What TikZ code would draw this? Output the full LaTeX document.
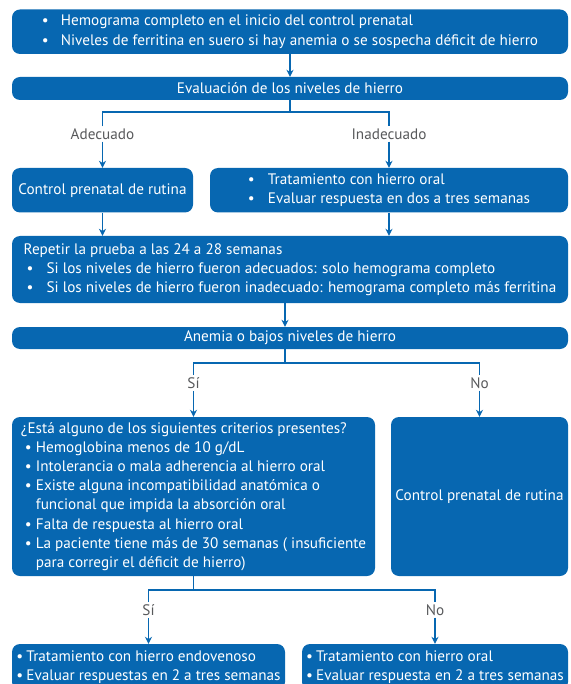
\documentclass[tikz,border=0pt]{standalone}
\usepackage{fontspec}
\setmainfont{PT Sans}
\usetikzlibrary{arrows.meta, positioning}

\definecolor{boxblue}{HTML}{0767B1}
\definecolor{labgrey}{HTML}{58595B}

\newcommand{\blt}[2][20pt]{\makebox[#1][l]{\textbullet}#2}

\tikzset{
  box/.style={fill=boxblue, rounded corners=8pt, text=white, align=left,
    inner sep=0pt, font=\fontsize{15.2}{19.2}\selectfont},
  lab/.style={text=labgrey, inner sep=2pt, font=\fontsize{15.2}{19.2}\selectfont},
  wire/.style={draw=boxblue, line width=1.2pt},
  link/.style={wire, -{Stealth[length=7pt,width=7pt]}}
}

\begin{document}
\begin{tikzpicture}[x=1pt,y=-1pt]
  \useasboundingbox (0,0) rectangle (570,684);
  \clip (0,0) rectangle (570,684);

  % Boxes
  \node[box, minimum width=556pt, minimum height=44.5pt] (inicio) at (290,31.75)
    {\blt[19pt]{Hemograma completo en el inicio del control prenatal}\\
     \blt[19pt]{Niveles de ferritina en suero si hay anemia o se sospecha déficit de hierro}};
  \node[box, minimum width=556pt, minimum height=23pt] (evalua) at (290,88.5)
    {Evaluación de los niveles de hierro};
  \node[box, minimum width=181pt, minimum height=44.5pt] (control) at (102.5,190.25)
    {Control prenatal de rutina};
  \node[box, minimum width=358pt, minimum height=44.5pt] (tratam) at (389,190.25)
    {\blt{Tratamiento con hierro oral}\\
     \blt{Evaluar respuesta en dos a tres semanas}};
  \node[box, minimum width=556pt, minimum height=67pt] (repetir) at (290,269.5)
    {Repetir la prueba a las 24 a 28 semanas\\
     \hspace*{3pt}\blt{Si los niveles de hierro fueron adecuados: solo hemograma completo}\\
     \hspace*{3pt}\blt{Si los niveles de hierro fueron inadecuado: hemograma completo más ferritina}};
  \node[box, minimum width=556pt, minimum height=22pt] (anemia) at (290,338)
    {Anemia o bajos niveles de hierro};
  \node[box, minimum width=363pt, minimum height=159pt] (criter) at (193.5,496.5)
    {¿Está alguno de los siguientes criterios presentes?\\
     \hspace*{4pt}\blt[11pt]{Hemoglobina menos de 10 g/dL}\\
     \hspace*{4pt}\blt[11pt]{Intolerancia o mala adherencia al hierro oral}\\
     \hspace*{4pt}\blt[11pt]{Existe alguna incompatibilidad anatómica o}\\
     \hspace*{15pt}funcional que impida la absorción oral\\
     \hspace*{4pt}\blt[11pt]{Falta de respuesta al hierro oral}\\
     \hspace*{4pt}\blt[11pt]{La paciente tiene más de 30 semanas ( insuficiente}\\
     \hspace*{15pt}para corregir el déficit de hierro)};
  \node[box, minimum width=177pt, minimum height=159pt] (rutina) at (479.5,496.5)
    {Control prenatal de rutina};
  \node[box, minimum width=273pt, minimum height=46pt] (endov) at (148.5,667)
    {\blt[10pt]{Tratamiento con hierro endovenoso}\\
     \blt[10pt]{Evaluar respuestas en 2 a tres semanas}};
  \node[box, minimum width=266pt, minimum height=46pt] (oral) at (435,667)
    {\blt[10pt]{Tratamiento con hierro oral}\\
     \blt[10pt]{Evaluar respuesta en 2 a tres semanas}};

  % Branch labels
  \node[lab] (adec) at (102.5,134) {Adecuado};
  \node[lab] (inadec) at (389,134) {Inadecuado};
  \node[lab] (si1) at (193.5,383) {Sí};
  \node[lab] (no1) at (479.5,383) {No};
  \node[lab] (si2) at (148.5,610) {Sí};
  \node[lab] (no2) at (435,610) {No};

  % Fork points
  \coordinate (fork1) at (290,112);
  \coordinate (fork2) at (285,363);
  \coordinate (fork3) at (193.5,590);

  % Connectors
  \draw[link] (inicio) -- (evalua);
  \draw[wire] (evalua.south) -- (fork1);
  \draw[wire] (adec.north) |- (fork1) -| (inadec.north);
  \draw[link] (adec) -- (control);
  \draw[link] (inadec) -- (tratam);
  \draw[link] (control.south) -- (control.south |- repetir.north);
  \draw[link] (tratam.south) -- (tratam.south |- repetir.north);
  \draw[link] (fork2 |- repetir.south) -- (fork2 |- anemia.north);
  \draw[wire] (fork2 |- anemia.south) -- (fork2);
  \draw[wire] (si1.north) |- (fork2) -| (no1.north);
  \draw[link] (si1) -- (criter);
  \draw[link] (no1) -- (rutina);
  \draw[wire] (criter.south) -- (fork3);
  \draw[wire] (si2.north) |- (fork3) -| (no2.north);
  \draw[link] (si2) -- (endov);
  \draw[link] (no2) -- (oral);
\end{tikzpicture}
\end{document}
